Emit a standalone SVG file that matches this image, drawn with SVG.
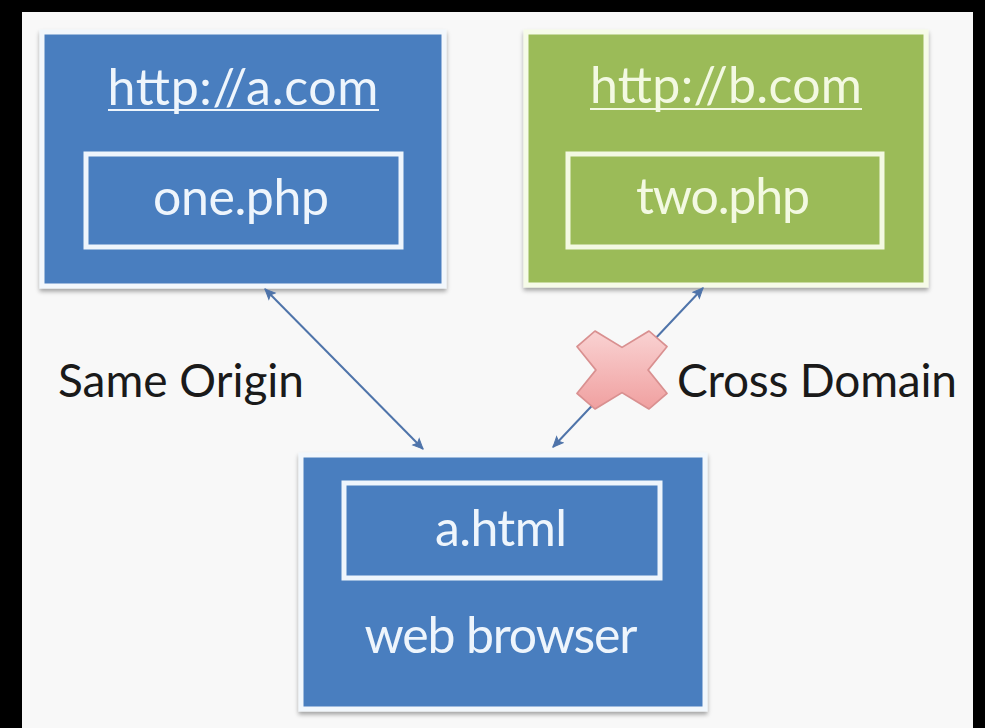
<svg xmlns="http://www.w3.org/2000/svg" width="985" height="728" viewBox="0 0 985 728">
  <defs>
    <filter id="shadow" x="-5%" y="-5%" width="110%" height="115%">
      <feDropShadow dx="0" dy="3" stdDeviation="2" flood-color="#000" flood-opacity="0.35"/>
    </filter>
    <linearGradient id="xgrad" x1="0" y1="0" x2="0" y2="1">
      <stop offset="0" stop-color="#f9d2d2"/>
      <stop offset="1" stop-color="#f0a0a0"/>
    </linearGradient>
    <marker id="arr" viewBox="0 0 12 12" refX="11" refY="6" markerWidth="12" markerHeight="12" markerUnits="userSpaceOnUse" orient="auto-start-reverse">
      <path d="M1,1.5 L11,6 L1,10.5 L3,6 Z" fill="#4f74aa" stroke="#4f74aa" stroke-width="1" stroke-linejoin="miter"/>
    </marker>
  </defs>
  <style>
    .frame { fill: #000; }
    .bg { fill: #f8f8f8; }
    .blue { fill: #4a7ebf; stroke: #f2f7fc; stroke-width: 5; }
    .green { fill: #9bbb59; stroke: #f6fbe8; stroke-width: 5; }
    .innerB { fill: none; stroke: #eef5fc; stroke-width: 5; }
    .innerG { fill: none; stroke: #f3f9e2; stroke-width: 5; }
    .t { font-family: Lato, "Open Sans", "Liberation Sans", sans-serif; font-size: 50px; text-anchor: middle; }
    .tb { fill: #eef5fc; }
    .tg { fill: #f3f9e2; }
    .lbl { font-family: Lato, "Open Sans", "Liberation Sans", sans-serif; font-size: 46px; fill: #1a1a1a; }
    .conn { stroke: #4f74aa; stroke-width: 2; fill: none; }
  </style>
  <rect class="frame" x="0" y="0" width="985" height="728"/>
  <rect class="bg" x="22" y="12" width="951" height="716"/>

  <g id="node-a">
    <rect class="blue" x="42" y="32" width="402" height="254" filter="url(#shadow)"/>
    <text class="t tb" x="243" y="105" textLength="271">http://a.com</text>
    <line x1="108" y1="110" x2="379" y2="110" stroke="#eef5fc" stroke-width="2"/>
    <rect class="innerB" x="86" y="154" width="315" height="93"/>
    <text class="t tb" x="241" y="215" textLength="176">one.php</text>
  </g>

  <g id="node-b">
    <rect class="green" x="526" y="32" width="400" height="253" filter="url(#shadow)"/>
    <text class="t tg" x="726" y="103" textLength="272">http://b.com</text>
    <line x1="590" y1="109" x2="862" y2="109" stroke="#f3f9e2" stroke-width="2"/>
    <rect class="innerG" x="568" y="154" width="314" height="93"/>
    <text class="t tg" x="723" y="214" textLength="174">two.php</text>
  </g>

  <g id="node-browser">
    <rect class="blue" x="301" y="455" width="404" height="254" filter="url(#shadow)"/>
    <rect class="innerB" x="344" y="483" width="316" height="95"/>
    <text class="t tb" x="501" y="546" textLength="132">a.html</text>
    <text class="t tb" x="501" y="653" textLength="273">web browser</text>
  </g>

  <g id="connectors">
    <line class="conn" x1="265" y1="289" x2="423" y2="449" marker-start="url(#arr)" marker-end="url(#arr)"/>
    <line class="conn" x1="703" y1="288" x2="553" y2="447" marker-start="url(#arr)" marker-end="url(#arr)"/>
    <path id="cross" d="M-1,-0.6 L-0.6,-1 L0,-0.58 L0.6,-1 L1,-0.6 L0.58,0 L1,0.6 L0.6,1 L0,0.58 L-0.6,1 L-1,0.6 L-0.58,0 Z" transform="translate(622,370) scale(45,39)" fill="url(#xgrad)" stroke="#d99090" stroke-width="0.04" stroke-linejoin="round"/>
  </g>

  <g id="labels">
    <text class="lbl" x="58" y="397" textLength="246">Same Origin</text>
    <text class="lbl" x="677" y="397" textLength="280">Cross Domain</text>
  </g>
</svg>
